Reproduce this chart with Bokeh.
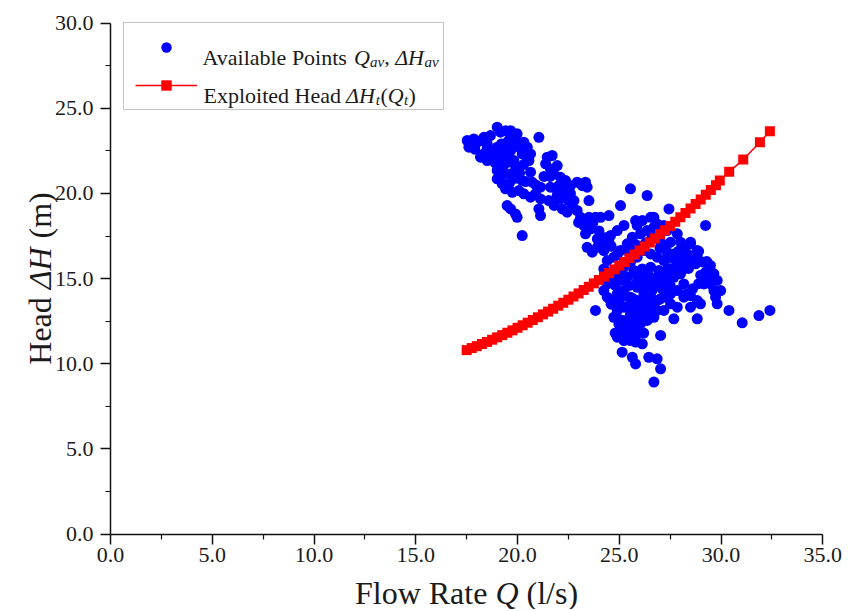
import math
from bokeh.plotting import figure
from bokeh.models import (Range1d, FixedTicker, PrintfTickFormatter, Legend,
                          LegendItem, Label, ColumnDataSource)
from bokeh.embed import file_html
from bokeh.resources import INLINE

# ---------------- data ----------------
avail_q = [
    17.53, 17.61, 17.85, 17.69, 18.02, 18.35, 18.51, 18.67, 19.00, 19.16,
    19.41, 19.66, 19.98, 19.90, 19.57, 19.33, 19.00, 18.67, 18.35, 18.18,
    18.51, 18.76, 19.16, 19.41, 19.66, 20.07, 20.31, 20.48, 20.64, 20.56,
    20.23, 19.82, 19.49, 19.25, 19.00, 19.33, 19.66, 19.00, 19.25, 19.41,
    19.74, 20.07, 20.23, 20.64, 21.05, 21.46, 21.70, 21.38, 21.62, 21.95,
    21.79, 22.11, 22.36, 22.03, 21.62, 21.13, 20.88, 20.72, 20.64, 20.31,
    21.13, 21.54, 21.95, 22.36, 22.60, 22.93, 23.34, 23.42, 23.18, 19.49,
    19.66, 19.90, 19.98, 21.05, 21.13, 20.23, 22.11, 22.20, 22.44, 22.69,
    22.77, 22.93, 23.10, 23.34, 23.51, 23.83, 24.08, 24.49, 23.51, 23.26,
    23.34, 23.59, 23.92, 23.42, 23.67, 23.92, 24.24,
    25.55, 26.37, 25.06, 25.80, 26.13, 26.54, 25.88, 25.23, 24.90, 24.57,
    24.49, 24.24, 24.41, 24.24, 24.73, 25.06, 25.39, 25.64, 26.04, 26.37,
    26.70, 27.35, 27.44, 26.70, 26.86, 27.19, 27.03, 27.52, 27.85, 28.01,
    28.17, 28.50, 28.34, 28.01, 27.68, 27.35, 27.19, 26.86, 26.54, 26.21,
    25.88, 25.55, 25.23, 25.72, 26.13, 26.54, 26.95, 27.27, 27.52, 27.85,
    28.17, 28.50, 28.75, 28.83, 29.16, 29.48, 29.24, 29.65, 29.81, 29.98,
    29.73, 29.81, 29.24, 28.50, 28.83, 24.41, 24.73, 24.24, 24.41, 24.57,
    24.90, 25.23, 25.55, 25.88, 26.21, 26.54, 26.70, 27.03, 27.35, 27.68,
    28.01, 28.17, 27.85, 27.52, 27.19, 26.86, 26.54, 26.21, 25.88, 25.55,
    25.23, 24.90, 24.73, 24.98, 25.23, 25.55, 25.88, 26.21, 26.54, 26.86,
    26.70, 26.37, 26.04, 25.88, 25.72, 25.39, 25.06, 24.90, 25.23, 25.55,
    25.80, 26.13, 25.64, 25.80, 25.14, 26.45, 26.86, 27.03, 26.70, 23.83,
    27.03, 27.68, 28.83, 28.50, 28.83, 28.99, 28.50, 30.39, 31.04, 31.86,
    32.40, 26.37, 27.19, 27.52, 27.85, 28.17, 29.16, 29.48, 29.65,
    24.60, 24.90, 25.20, 25.50, 25.80, 26.00, 26.30, 26.60, 26.90, 27.00,
    27.30, 27.60, 27.90, 28.20, 25.00, 25.40, 25.90, 26.30, 26.70, 27.00,
    27.40, 27.70, 28.10, 28.40, 24.80, 25.10, 25.50, 25.90, 26.30, 26.60,
    27.10, 27.50, 24.60, 25.00, 25.30, 25.70, 26.00, 26.30, 26.70, 27.00,
    25.00, 25.40, 25.70, 26.00, 26.40, 24.80, 25.10, 25.50, 25.80, 26.20,
    29.00, 28.90, 29.30, 28.60, 28.30, 28.90, 29.30,
    17.90, 18.20, 18.50, 18.90, 19.20, 19.50, 19.80, 19.60, 19.30, 18.90,
    19.90, 20.10, 20.30, 19.60, 19.90, 20.40, 21.30, 21.60, 21.90, 22.30,
    22.60, 20.90, 21.80, 22.50, 23.00, 23.70, 24.00, 24.30,
]
avail_h = [
    23.11, 22.72, 23.20, 22.91, 23.01, 23.30, 22.91, 23.40, 23.89, 23.60,
    23.69, 23.69, 23.50, 23.20, 23.11, 22.91, 22.72, 22.52, 22.32, 22.13,
    21.93, 22.13, 22.23, 22.32, 22.52, 22.72, 23.01, 22.72, 22.32, 21.93,
    22.32, 21.93, 21.83, 21.64, 21.35, 21.15, 21.15, 20.86, 20.56, 20.27,
    20.07, 20.17, 20.76, 21.25, 23.30, 22.13, 22.23, 21.74, 21.44, 21.64,
    21.15, 20.95, 20.76, 20.46, 20.37, 20.37, 19.98, 20.66, 19.78, 19.98,
    19.68, 19.58, 19.88, 20.17, 20.46, 20.66, 20.66, 20.37, 20.46, 19.29,
    19.09, 18.80, 18.60, 19.09, 18.70, 17.53, 19.68, 19.09, 18.90, 19.19,
    19.58, 19.00, 18.60, 18.41, 18.60, 18.60, 18.60, 18.70, 19.58, 18.12,
    17.63, 17.92, 17.33, 16.84, 16.55, 16.84, 17.04,
    20.27, 19.88, 19.29, 18.41, 18.41, 18.60, 18.12, 18.12, 17.82, 17.53,
    17.14, 16.65, 16.06, 15.57, 16.26, 16.65, 17.04, 17.43, 17.63, 17.82,
    18.02, 17.82, 19.09, 18.60, 18.21, 18.12, 17.14, 17.14, 17.63, 17.14,
    16.84, 17.04, 16.45, 16.26, 16.45, 16.55, 16.06, 16.26, 16.45, 16.65,
    16.26, 15.96, 15.67, 15.47, 15.57, 15.67, 15.47, 15.28, 15.57, 15.77,
    15.87, 16.06, 15.87, 16.26, 15.96, 15.77, 15.36, 15.28, 14.89, 14.30,
    13.91, 13.52, 18.12, 17.14, 16.65, 14.69, 14.89, 14.30, 13.91, 13.71,
    14.10, 14.30, 13.91, 14.49, 14.89, 15.08, 14.69, 14.69, 14.89, 15.08,
    15.28, 14.69, 14.30, 14.10, 13.91, 13.71, 13.91, 14.10, 13.71, 13.52,
    13.32, 13.13, 12.73, 12.34, 12.54, 12.93, 13.13, 13.32, 13.32, 13.13,
    12.73, 12.54, 12.34, 11.95, 12.34, 12.15, 11.95, 11.56, 11.36, 11.36,
    11.27, 11.17, 10.38, 9.99, 10.68, 10.38, 10.29, 9.70, 8.92, 13.13,
    11.66, 12.64, 12.64, 14.00, 13.71, 13.52, 13.32, 13.13, 12.40, 12.83,
    13.13, 14.69, 13.13, 13.52, 13.32, 13.91, 14.69, 14.69, 14.30,
    16.90, 16.40, 15.90, 16.50, 17.00, 16.90, 17.10, 17.40, 17.60, 16.80,
    16.90, 16.20, 16.60, 16.30, 15.30, 15.10, 15.10, 15.30, 15.00, 15.20,
    15.60, 15.40, 15.50, 15.60, 14.60, 14.90, 14.60, 14.90, 14.40, 14.30,
    14.40, 14.60, 13.50, 13.70, 14.00, 13.80, 13.40, 13.60, 13.50, 13.80,
    12.60, 12.40, 12.70, 12.90, 12.90, 11.80, 11.60, 11.80, 11.60, 11.80,
    15.20, 14.70, 14.90, 14.40, 14.10, 16.60, 16.00,
    22.60, 23.10, 22.60, 22.40, 22.90, 22.50, 22.80, 22.10, 21.60, 21.80,
    21.60, 21.20, 21.70, 20.60, 20.90, 20.70, 21.00, 21.00, 20.30, 20.30,
    20.00, 20.50, 19.30, 19.60, 18.30, 18.30, 17.80, 17.40,
]
exploited_q = [
    17.50, 17.75, 18.00, 18.25, 18.50, 18.75, 19.00, 19.25, 19.50, 19.75,
    20.00, 20.25, 20.50, 20.75, 21.00, 21.25, 21.50, 21.75, 22.00, 22.25,
    22.50, 22.75, 23.00, 23.25, 23.50, 23.75, 24.00, 24.25, 24.50, 24.75,
    25.00, 25.25, 25.50, 25.75, 26.00, 26.25, 26.50, 26.75, 27.00, 27.25,
    27.50, 27.75, 28.00, 28.25, 28.50, 28.75, 29.00, 29.25, 29.50, 29.75,
    29.94, 30.40, 31.09, 31.91, 32.40,
]
exploited_h = [
    10.80, 10.92, 11.03, 11.16, 11.28, 11.41, 11.55, 11.68, 11.82, 11.96,
    12.11, 12.26, 12.41, 12.57, 12.73, 12.90, 13.06, 13.23, 13.41, 13.58,
    13.76, 13.95, 14.13, 14.33, 14.52, 14.72, 14.92, 15.12, 15.33, 15.54,
    15.76, 15.97, 16.20, 16.42, 16.65, 16.88, 17.12, 17.35, 17.60, 17.84,
    18.09, 18.34, 18.60, 18.86, 19.12, 19.38, 19.65, 19.93, 20.20, 20.48,
    20.76, 21.27, 21.99, 23.01, 23.65,
]
x_major_ticks = [0, 5, 10, 15, 20, 25, 30, 35]
x_minor_ticks = [2.5, 7.5, 12.5, 17.5, 22.5, 27.5, 32.5]
y_major_ticks = [0, 5, 10, 15, 20, 25, 30]
y_minor_ticks = [2.5, 7.5, 12.5, 17.5, 22.5, 27.5]

FONT = "Liberation Serif"
TXT = "#1a1a1a"

# ---------------- layout (pixels) ----------------
W, H = 846, 609
AX_L, AX_R = 110.0, 822.3      # x pixels of Q = 0 and Q = 35
AX_B, AX_T = 533.5, 22.7       # y pixels of dH = 0 and dH = 30
sx = (AX_R - AX_L) / 35.0
sy = (AX_B - AX_T) / 30.0
x_rng = Range1d(-AX_L / sx, 35.0 + (W - AX_R) / sx)
y_rng = Range1d(-(H - AX_B) / sy, 30.0 + AX_T / sy)

p = figure(width=W, height=H, output_backend="svg", toolbar_location=None,
           x_range=x_rng, y_range=y_rng,
           min_border_left=0, min_border_right=0,
           min_border_top=0, min_border_bottom=0)
p.outline_line_color = None
p.xgrid.visible = False
p.ygrid.visible = False
p.background_fill_color = "white"
p.border_fill_color = "white"

for ax, majors, minors, bnd in ((p.xaxis[0], x_major_ticks, x_minor_ticks, (0, 35)),
                                (p.yaxis[0], y_major_ticks, y_minor_ticks, (0, 30))):
    ax.fixed_location = 0
    ax.bounds = bnd
    ax.ticker = FixedTicker(ticks=majors, minor_ticks=minors)
    ax.formatter = PrintfTickFormatter(format="%.1f")
    ax.axis_line_color = "#111111"
    ax.axis_line_width = 1.5
    ax.major_tick_line_color = "#111111"
    ax.major_tick_line_width = 1.5
    ax.minor_tick_line_color = "#111111"
    ax.minor_tick_line_width = 1.2
    ax.major_tick_in = 0
    ax.major_tick_out = 10
    ax.minor_tick_in = 0
    ax.minor_tick_out = 5
    ax.major_label_text_font = FONT
    ax.major_label_text_font_size = "22px"
    ax.major_label_text_color = TXT
p.xaxis.major_label_standoff = 4
p.yaxis.major_label_standoff = 7

src_av = ColumnDataSource(dict(q=avail_q, h=avail_h))
src_ex = ColumnDataSource(dict(q=exploited_q, h=exploited_h))

r_av = p.scatter("q", "h", source=src_av, marker="circle", size=11,
                 fill_color="#0000ff", line_color=None)
r_exl = p.line("q", "h", source=src_ex, line_color="#ff0000", line_width=1.5)
r_exs = p.scatter("q", "h", source=src_ex, marker="square", size=10,
                  fill_color="#ff0000", line_color=None)

legend = Legend(items=[LegendItem(label=" ", renderers=[r_av]),
                       LegendItem(label=" ", renderers=[r_exl, r_exs])],
                location=(123, H - 110), glyph_width=62, glyph_height=26,
                label_width=235, label_standoff=0, label_height=26,
                label_text_font_size="10px", padding=11, spacing=12,
                margin=0, border_line_color="#8c8c8c", border_line_width=1,
                background_fill_alpha=0.0)
p.add_layout(legend)


def lab(x, y, text, size, style="normal", align="left", angle=0.0):
    """x, y: pixel position from the left / top of the chart."""
    p.add_layout(Label(x=x, y=H - y, x_units="screen", y_units="screen", text=text,
                       text_font=FONT, text_font_size=f"{size}px",
                       text_font_style=style, text_align=align,
                       text_baseline="alphabetic", angle=angle,
                       text_color=TXT))


# legend texts
y1, y2 = 56.7, 94.5
lab(202.0, y1, "Available Points", 22)
lab(353.6, y1, "Q", 22, "italic")
lab(369.5, y1 + 5, "av", 15, "italic")
lab(383.7, y1, ",", 22)
lab(394.7, y1, "ΔH", 22, "italic")
lab(424.0, y1 + 5, "av", 15, "italic")

lab(203.0, y2, "Exploited Head", 22)
lab(345.5, y2, "ΔH", 22, "italic")
lab(375.3, y2 + 5, "t", 15, "italic")
lab(380.0, y2, "(", 22)
lab(387.3, y2, "Q", 22, "italic")
lab(403.4, y2 + 5, "t", 15, "italic")
lab(408.0, y2, ")", 22)

# x-axis title (centred under the axis)
ty = 592
lab(486.9, ty, "Flow Rate", 32, align="right")
lab(494.9, ty, "Q", 32, "italic")
lab(526.0, ty, "(l/s)", 32)

# y-axis title (rotated, centred on the axis)
ang = math.pi / 2
lab(39, 296.7, "Head", 32, align="right", angle=ang)
lab(39, 288.7, "ΔH", 32, "italic", angle=ang)
lab(39, 238.0, "(m)", 32, angle=ang)

open("out.html", "w").write(file_html(p, INLINE))
